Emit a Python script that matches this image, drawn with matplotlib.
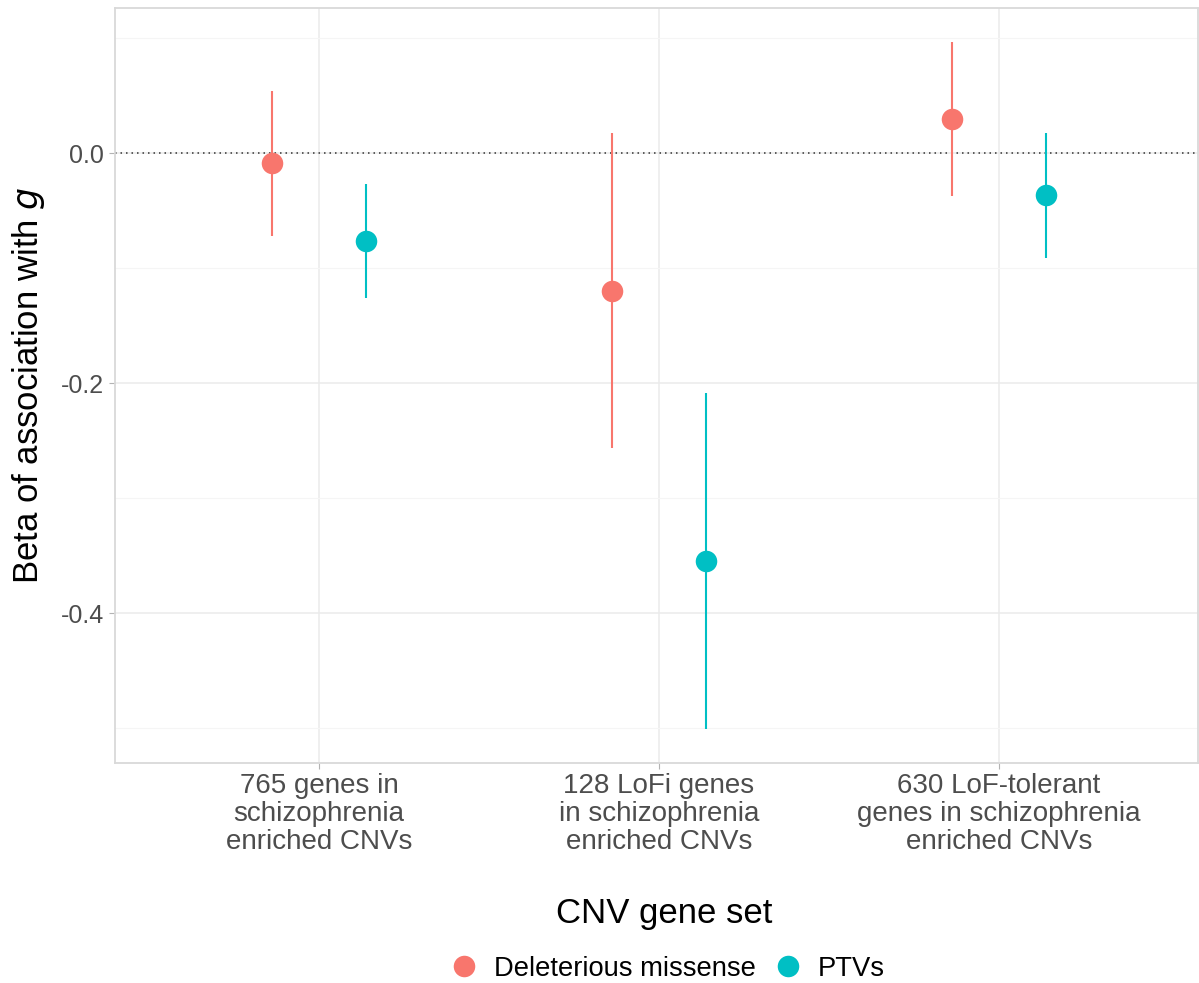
import matplotlib
matplotlib.use("Agg")
import matplotlib.pyplot as plt
import numpy as np
from matplotlib.lines import Line2D

plt.rcParams['font.family'] = ['Liberation Sans', 'DejaVu Sans']

categories = ["765 genes in\nschizophrenia\nenriched CNVs",
              "128 LoFi genes\nin schizophrenia\nenriched CNVs",
              "630 LoF-tolerant\ngenes in schizophrenia\nenriched CNVs"]
series_names = ["Deleterious missense", "PTVs"]
del_beta = [-0.0087, -0.120, 0.0296]
del_lo = [-0.072, -0.2565, -0.0377]
del_hi = [0.054, 0.0174, 0.0965]
ptv_beta = [-0.0765, -0.3548, -0.0365]
ptv_lo = [-0.126, -0.5009, -0.0916]
ptv_hi = [-0.027, -0.2087, 0.0174]
y_major = [0.0, -0.2, -0.4]
y_major_labels = ["0.0", "-0.2", "-0.4"]
y_minor = [0.1, -0.1, -0.3, -0.5]

colors = ["#F8766D", "#00BFC4"]
W, H = 1199, 983
fig = plt.figure(figsize=(W/100, H/100), dpi=100)
ax = fig.add_axes([115/W, 1-763/H, (1198-115)/W, (763-8)/H])

x = np.arange(1, len(categories)+1)
dodge = 0.138
for i, (b, lo, hi) in enumerate([(del_beta, del_lo, del_hi), (ptv_beta, ptv_lo, ptv_hi)]):
    xs = x + (-dodge if i == 0 else dodge)
    b = np.array(b); lo = np.array(lo); hi = np.array(hi)
    ax.vlines(xs, lo, hi, color=colors[i], lw=1.5, zorder=3)
    ax.plot(xs, b, 'o', color=colors[i], ms=15.5, mew=0, zorder=4)

ax.axhline(0, color='#333333', lw=1.1, ls=(0, (1, 2.6)), zorder=2)

ax.set_xlim(0.4, 3.585)
ax.set_ylim(-0.5304, 0.1261)
ax.set_xticks(x)
ax.set_xticklabels(categories, fontsize=20, color='#4D4D4D', linespacing=1.1)
ax.set_yticks(y_major)
ax.set_yticklabels(y_major_labels, fontsize=18, color='#4D4D4D')
ax.set_yticks(y_minor, minor=True)
ax.tick_params(axis='both', which='major', color='#B3B3B3', length=4, width=0.8, pad=4)
ax.tick_params(axis='x', which='major', pad=3)
ax.tick_params(axis='y', which='minor', length=0)
ax.grid(True, which='major', color='#EBEBEB', lw=1.1, zorder=0)
ax.grid(True, which='minor', axis='y', color='#F5F5F5', lw=0.8, zorder=0)
ax.set_axisbelow(True)
for s in ax.spines.values():
    s.set_color('#D9D9D9')
    s.set_linewidth(1.3)

ax.set_xlabel("CNV gene set", fontsize=25)
ax.xaxis.label.set_va('center')
ax.xaxis.set_label_coords((664-115)/1083, -150/755)
ax.set_ylabel("Beta of association with $\\mathit{g}$", fontsize=25, labelpad=10)

handles = [Line2D([], [], marker='o', ls='', color=c, ms=15.5, mew=0) for c in colors]
fig.legend(handles, series_names, loc='center', bbox_to_anchor=(664/W, 1-969/H),
           ncol=2, frameon=False, fontsize=19.7, handletextpad=0.35, columnspacing=0.42,
           handlelength=1.5)

fig.savefig("out.png", dpi=100)
